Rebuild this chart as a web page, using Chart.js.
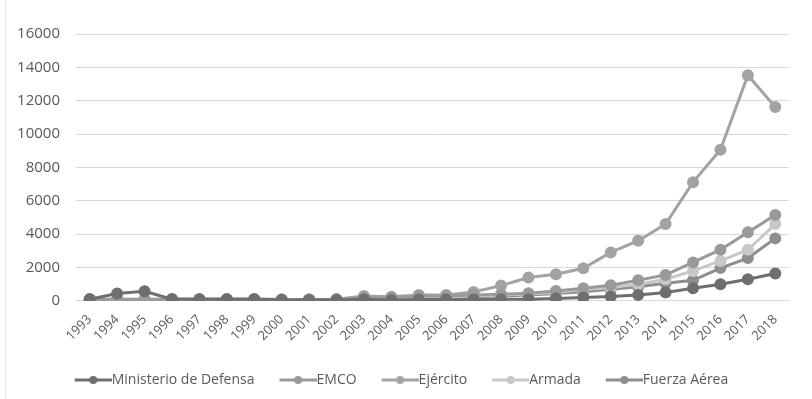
<!DOCTYPE html>
<html>
<head>
<meta charset="utf-8">
<script src="https://cdn.jsdelivr.net/npm/chart.js"></script>
<style>
  html, body { margin: 0; padding: 0; background: #fff; }
  #wrap { position: relative; width: 812px; height: 399px; }
  #wrap:before { content: ''; position: absolute; left: 5px; top: 0; bottom: 0; border-left: 1px solid #e6e6e6; }
</style>
</head>
<body>
<div id="wrap"><canvas id="gastoChart"></canvas></div>
<script>
const years = ['1993','1994','1995','1996','1997','1998','1999','2000','2001','2002','2003','2004','2005',
               '2006','2007','2008','2009','2010','2011','2012','2013','2014','2015','2016','2017','2018'];

const ministerio = [100, 450, 580, 100, 100, 100, 100, 50, 50, 50, 100, 50, 80, 80, 80, 100, 100, 150, 200, 260, 360, 500, 760, 1000, 1300, 1640];
const emco       = [100, 50, 50, 100, 100, 100, 100, 80, 80, 100, 200, 200, 300, 300, 350, 400, 460, 600, 760, 940, 1240, 1560, 2310, 3070, 4110, 5150];
const ejercito   = [100, 100, 100, 100, 100, 100, 100, 80, 80, 100, 300, 250, 350, 350, 540, 920, 1400, 1600, 1960, 2910, 3610, 4610, 7120, 9060, 13530, 11630];
const armada     = [100, 100, 100, 100, 100, 100, 100, 80, 80, 100, 150, 150, 250, 250, 300, 350, 420, 520, 680, 800, 1000, 1300, 1800, 2400, 3070, 4610];
const fuerzaAerea = [100, 50, 50, 100, 100, 100, 100, 80, 80, 80, 150, 100, 200, 200, 250, 300, 350, 450, 550, 700, 850, 1060, 1240, 1970, 2570, 3750];

const yTicks = [0, 2000, 4000, 6000, 8000, 10000, 12000, 14000, 16000];

const FONT = 'Open Sans';
const TEXT = '#595959';

// legend marker: line with a dot, drawn into a small canvas
function legendMarker(color) {
    const c = document.createElement('canvas');
    c.width = 44;
    c.height = 10;
    const g = c.getContext('2d');
    g.strokeStyle = color;
    g.lineWidth = 3;
    g.beginPath();
    g.moveTo(7, 5);
    g.lineTo(44, 5);
    g.stroke();
    g.fillStyle = color;
    g.beginPath();
    g.arc(25.5, 5, 4, 0, Math.PI * 2);
    g.fill();
    return c;
}

function serie(label, data, color) {
    return {
        label: label,
        data: data,
        borderColor: color,
        backgroundColor: color,
        pointBackgroundColor: color,
        pointBorderColor: color,
        borderWidth: 3,
        pointRadius: 4.5,
        tension: 0
    };
}

new Chart(document.getElementById('gastoChart'), {
    type: 'line',
    data: {
        labels: years,
        datasets: [
            serie('Ministerio de Defensa', ministerio, '#6f6f6f'),
            serie('EMCO', emco, '#9a9a9a'),
            serie('Ejército', ejercito, '#a3a3a3'),
            serie('Armada', armada, '#c8c8c8'),
            serie('Fuerza Aérea', fuerzaAerea, '#8e8e8e')
        ]
    },
    options: {
        responsive: true,
        maintainAspectRatio: false,
        animation: false,
        layout: {
            padding: { left: 14, right: 23, top: 34, bottom: 2 }
        },
        scales: {
            x: {
                offset: true,
                grid: { display: false, drawTicks: false },
                border: { color: '#d9d9d9' },
                afterFit: function(axis) {
                    axis.height -= 7;
                },
                ticks: {
                    color: TEXT,
                    font: { family: FONT, size: 13 },
                    minRotation: 45,
                    maxRotation: 45,
                    padding: 11,
                    autoSkip: false
                }
            },
            y: {
                min: 0,
                max: 16000,
                afterBuildTicks: function(axis) {
                    axis.ticks = yTicks.map(v => ({ value: v }));
                },
                afterFit: function(axis) {
                    axis.width = 62;
                },
                grid: { color: '#d9d9d9', drawTicks: false },
                border: { display: false },
                ticks: {
                    color: TEXT,
                    font: { family: FONT, size: 15 },
                    padding: 16,
                    callback: function(v) { return String(v); }
                }
            }
        },
        plugins: {
            legend: {
                position: 'bottom',
                labels: {
                    color: TEXT,
                    font: { family: FONT, size: 14 },
                    usePointStyle: true,
                    pointStyleWidth: 30,
                    padding: 25,
                    generateLabels: function(chart) {
                        return chart.data.datasets.map((ds, i) => ({
                            text: ds.label,
                            fontColor: TEXT,
                            pointStyle: legendMarker(ds.borderColor),
                            datasetIndex: i,
                            hidden: false,
                            lineWidth: 0
                        }));
                    }
                }
            },
            tooltip: { enabled: false }
        }
    }
});
</script>
</body>
</html>
